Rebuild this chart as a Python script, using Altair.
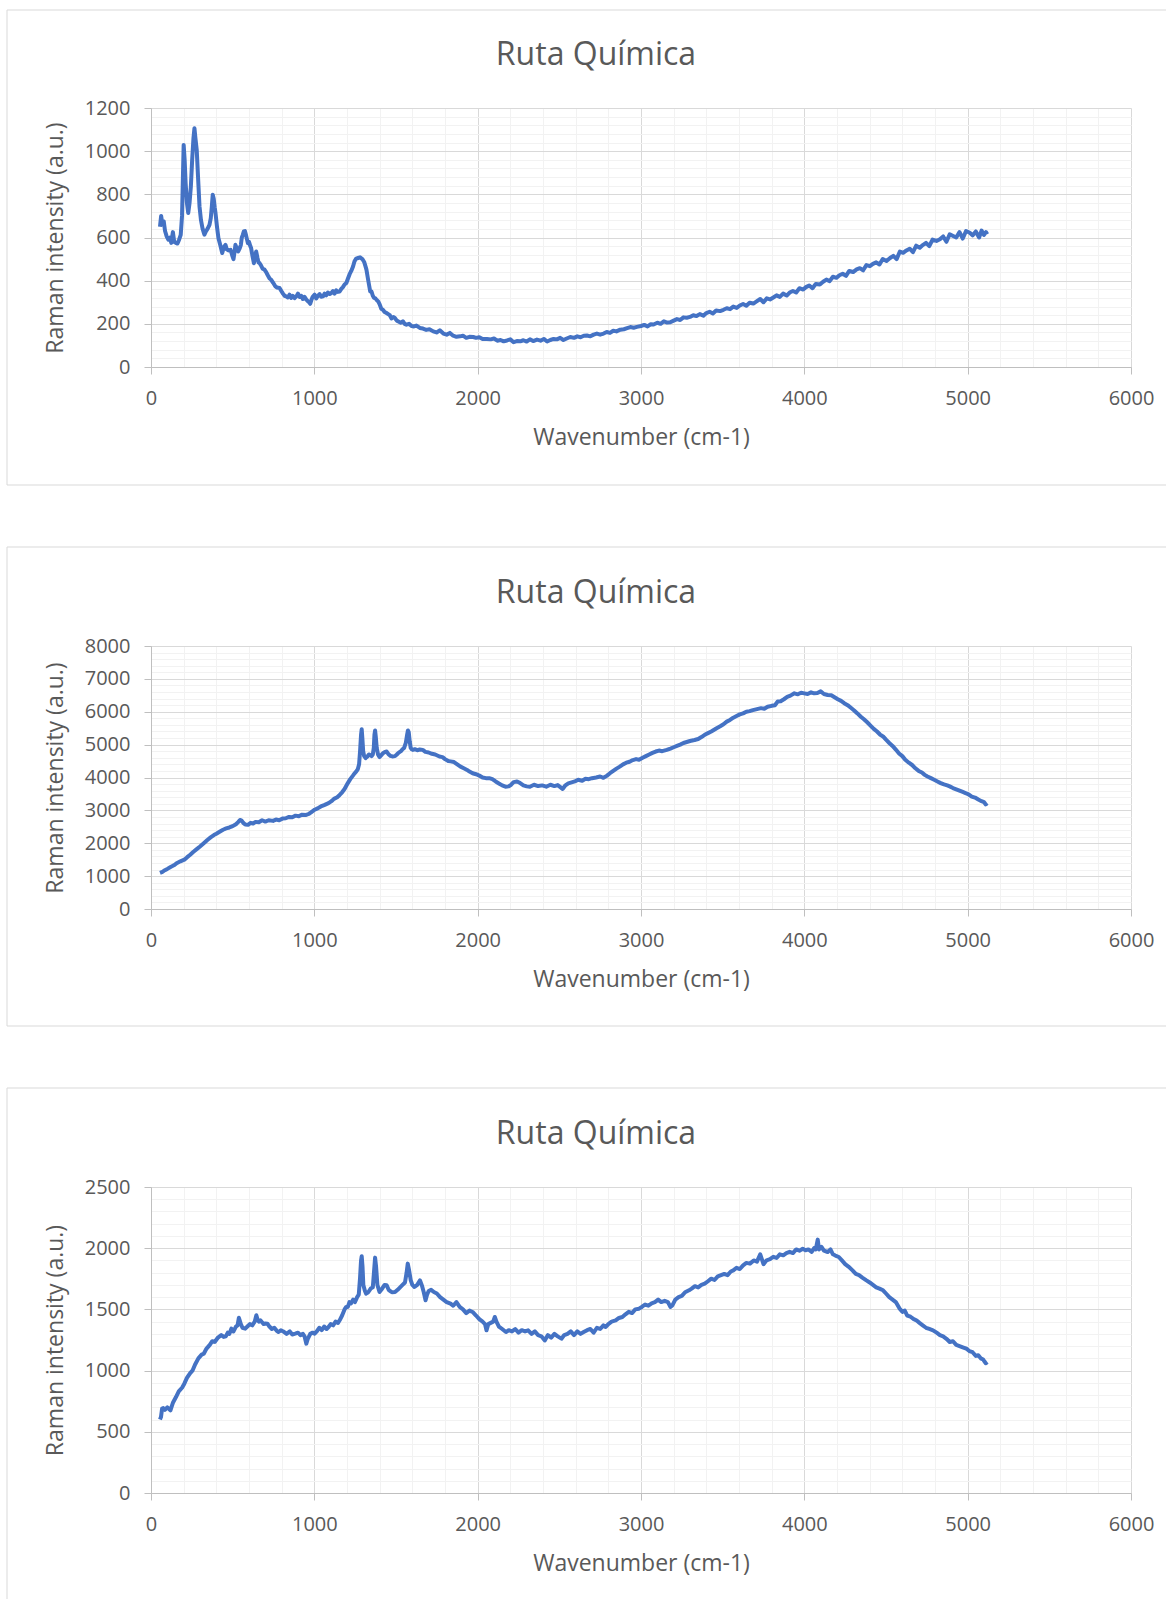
import altair as alt
import pandas as pd

FONT = "Open Sans"
LINE_COLOR = "#4472C4"
TEXT_COLOR = "#595959"
MAJOR_GRID = "#d9d9d9"
MINOR_GRID = "#f2f2f2"
FRAME_COLOR = "#d9d9d9"

TITLE = "Ruta Química"
X_TITLE = "Wavenumber (cm-1)"
Y_TITLE = "Raman intensity (a.u.)"

X_MAJOR = [0, 1000, 2000, 3000, 4000, 5000, 6000]
X_MINOR = [v for v in range(200, 6000, 200) if v % 1000]

# (wavenumber, intensity) pairs for each spectrum
SPECTRUM_1 = [
    (55, 650), (62, 700), (70, 660), (78, 675), (86, 630), (96, 605), (106, 590),
    (116, 600), (124, 575), (134, 625), (142, 580), (152, 575), (162, 572),
    (172, 590), (182, 612), (190, 700), (196, 900), (200, 1029), (206, 960),
    (212, 852), (220, 760), (228, 713), (236, 760), (244, 836), (252, 960),
    (260, 1060), (266, 1106), (272, 1060), (280, 1006), (288, 880), (297, 744),
    (306, 680), (316, 640), (327, 613), (336, 628), (346, 640), (358, 659),
    (366, 690), (372, 740), (378, 798), (384, 780), (390, 740), (395, 713),
    (404, 650), (413, 597), (424, 565), (436, 528), (446, 555), (456, 566),
    (464, 545), (474, 540), (487, 543), (496, 520), (505, 500), (512, 535),
    (517, 566), (526, 548), (534, 535), (542, 548), (550, 565), (556, 600),
    (562, 612), (568, 628), (575, 630), (582, 610), (593, 574), (600, 580),
    (608, 560), (613, 551), (620, 520), (630, 481), (636, 510), (644, 535),
    (652, 505), (658, 485), (665, 481), (674, 470), (684, 455), (695, 451),
    (705, 440), (715, 425), (726, 410), (736, 404), (748, 390), (760, 375),
    (772, 368), (787, 366), (798, 352), (808, 340), (818, 330), (828, 327),
    (838, 322), (848, 335), (858, 320), (868, 330), (879, 319), (890, 327),
    (900, 340), (910, 325), (920, 330), (930, 315), (940, 325), (951, 312),
    (960, 305), (968, 300), (975, 293), (982, 310), (990, 325), (1002, 335),
    (1012, 318), (1022, 330), (1032, 338), (1042, 325), (1053, 327), (1063, 340),
    (1073, 332), (1083, 345), (1094, 338), (1104, 343), (1114, 352), (1124, 340),
    (1134, 355), (1144, 348), (1155, 350), (1165, 362), (1175, 370), (1185, 382),
    (1196, 389), (1206, 410), (1216, 430), (1226, 445), (1237, 466), (1246, 490),
    (1256, 502), (1268, 505), (1280, 508), (1294, 500), (1306, 485), (1312, 470),
    (1319, 451), (1328, 410), (1335, 380), (1342, 350), (1350, 350), (1358, 330),
    (1366, 320), (1374, 318), (1382, 310), (1391, 304), (1400, 290), (1410, 270),
    (1420, 265), (1430, 255), (1442, 250), (1452, 245), (1462, 240), (1472, 225),
    (1483, 232), (1493, 227), (1505, 215), (1518, 210), (1530, 205), (1542, 212),
    (1553, 200), (1564, 196), (1580, 200), (1595, 190), (1610, 188), (1625, 192),
    (1646, 181), (1665, 178), (1685, 172), (1705, 175), (1728, 165), (1748, 160),
    (1768, 170), (1790, 155), (1810, 150), (1830, 158), (1850, 145), (1870, 140),
    (1892, 142), (1910, 145), (1930, 135), (1950, 140), (1973, 139), (1990, 135),
    (2010, 138), (2030, 130), (2057, 130), (2080, 128), (2100, 132), (2120, 122),
    (2140, 125), (2159, 119), (2180, 123), (2200, 128), (2220, 115), (2240, 120),
    (2261, 119), (2280, 124), (2300, 118), (2320, 128), (2340, 120), (2363, 127),
    (2385, 122), (2405, 130), (2425, 118), (2445, 125), (2465, 130), (2485, 128),
    (2505, 135), (2525, 125), (2545, 132), (2567, 139), (2590, 135), (2610, 142),
    (2630, 138), (2650, 145), (2669, 146), (2690, 142), (2710, 150), (2730, 155),
    (2750, 150), (2771, 155), (2790, 162), (2810, 158), (2830, 168), (2850, 165),
    (2873, 173), (2895, 175), (2915, 180), (2935, 185), (2955, 182), (2975, 186),
    (3000, 190), (3020, 195), (3040, 188), (3060, 198), (3077, 197), (3100, 205),
    (3120, 200), (3140, 212), (3160, 206), (3179, 207), (3200, 215), (3220, 222),
    (3240, 218), (3260, 230), (3280, 228), (3300, 232), (3320, 240), (3340, 236),
    (3360, 245), (3382, 238), (3400, 250), (3420, 256), (3440, 248), (3460, 262),
    (3484, 259), (3505, 265), (3525, 272), (3545, 268), (3565, 280), (3586, 274),
    (3605, 285), (3625, 292), (3645, 284), (3665, 298), (3688, 294), (3710, 305),
    (3730, 315), (3750, 300), (3770, 318), (3790, 313), (3810, 322), (3830, 332),
    (3850, 325), (3870, 340), (3892, 331), (3910, 345), (3930, 352), (3950, 345),
    (3970, 365), (3993, 359), (4010, 370), (4030, 378), (4050, 365), (4070, 385),
    (4095, 382), (4115, 395), (4135, 405), (4155, 398), (4175, 418), (4197, 413),
    (4215, 425), (4235, 432), (4255, 422), (4275, 445), (4299, 440), (4320, 452),
    (4340, 458), (4360, 448), (4380, 472), (4401, 467), (4420, 478), (4440, 485),
    (4460, 475), (4480, 500), (4503, 491), (4525, 505), (4545, 515), (4565, 500),
    (4585, 535), (4605, 529), (4625, 540), (4645, 548), (4665, 532), (4685, 562),
    (4707, 553), (4725, 565), (4745, 575), (4765, 560), (4785, 590), (4809, 584),
    (4830, 592), (4850, 605), (4870, 580), (4890, 615), (4911, 607), (4930, 600),
    (4950, 625), (4970, 595), (4990, 630), (5013, 622), (5030, 610), (5050, 628),
    (5070, 600), (5085, 632), (5100, 612), (5112, 625), (5120, 615),
]

SPECTRUM_2 = [
    (55, 1100), (70, 1130), (85, 1180), (100, 1220), (120, 1280), (140, 1330),
    (160, 1400), (180, 1450), (204, 1500), (220, 1570), (240, 1650), (260, 1740),
    (280, 1820), (300, 1900), (323, 2000), (345, 2100), (365, 2180), (385, 2250),
    (400, 2290), (420, 2350), (441, 2410), (460, 2450), (480, 2480), (500, 2520),
    (520, 2580), (535, 2650), (545, 2710), (555, 2690), (565, 2620), (577, 2570),
    (594, 2560), (610, 2620), (625, 2600), (640, 2650), (660, 2640), (680, 2700),
    (700, 2660), (720, 2700), (747, 2680), (765, 2720), (785, 2700), (805, 2750),
    (825, 2760), (845, 2800), (865, 2790), (885, 2840), (905, 2820), (925, 2870),
    (950, 2860), (965, 2890), (980, 2940), (1002, 3020), (1020, 3060), (1040, 3120),
    (1060, 3160), (1087, 3220), (1105, 3280), (1120, 3350), (1140, 3400),
    (1155, 3470), (1170, 3550), (1185, 3650), (1205, 3830), (1220, 3950),
    (1235, 4050), (1245, 4120), (1256, 4180), (1266, 4250), (1274, 4400),
    (1280, 4800), (1286, 5300), (1290, 5470), (1294, 5200), (1299, 4800),
    (1305, 4650), (1314, 4590), (1325, 4640), (1334, 4700), (1341, 4690),
    (1350, 4650), (1358, 4700), (1364, 4900), (1368, 5300), (1372, 5430),
    (1376, 5250), (1382, 4900), (1390, 4700), (1399, 4620), (1410, 4680),
    (1420, 4740), (1430, 4770), (1443, 4790), (1455, 4700), (1466, 4660),
    (1478, 4640), (1494, 4650), (1505, 4700), (1515, 4750), (1530, 4800),
    (1540, 4860), (1550, 4900), (1560, 5050), (1568, 5300), (1573, 5430),
    (1578, 5380), (1584, 5100), (1590, 4900), (1596, 4860), (1603, 4840),
    (1615, 4860), (1630, 4830), (1645, 4850), (1664, 4840), (1680, 4780),
    (1700, 4760), (1720, 4720), (1740, 4700), (1766, 4640), (1785, 4620),
    (1800, 4560), (1820, 4500), (1834, 4490), (1855, 4470), (1875, 4400),
    (1895, 4330), (1915, 4280), (1935, 4230), (1950, 4180), (1969, 4130),
    (1990, 4100), (2010, 4060), (2030, 4000), (2050, 3980), (2071, 3980),
    (2090, 3950), (2110, 3880), (2130, 3820), (2150, 3760), (2170, 3720),
    (2190, 3730), (2205, 3780), (2220, 3860), (2241, 3880), (2260, 3830),
    (2280, 3760), (2300, 3730), (2320, 3720), (2345, 3780), (2370, 3740),
    (2395, 3760), (2420, 3720), (2445, 3780), (2470, 3740), (2490, 3770),
    (2508, 3700), (2520, 3650), (2535, 3750), (2555, 3820), (2575, 3850),
    (2595, 3880), (2615, 3930), (2640, 3900), (2660, 3960), (2680, 3950),
    (2700, 3980), (2725, 4000), (2750, 4030), (2770, 3990), (2790, 4050),
    (2810, 4130), (2830, 4200), (2850, 4270), (2870, 4330), (2890, 4400),
    (2910, 4450), (2930, 4480), (2950, 4530), (2970, 4560), (2988, 4540),
    (3010, 4600), (3030, 4650), (3050, 4700), (3070, 4750), (3090, 4790),
    (3110, 4820), (3130, 4800), (3158, 4840), (3180, 4880), (3200, 4920),
    (3220, 4960), (3240, 5000), (3260, 5050), (3280, 5080), (3300, 5110),
    (3328, 5140), (3350, 5170), (3370, 5230), (3390, 5300), (3410, 5350),
    (3430, 5400), (3463, 5500), (3485, 5560), (3505, 5620), (3525, 5700),
    (3545, 5750), (3565, 5820), (3585, 5870), (3605, 5920), (3625, 5950),
    (3645, 6000), (3665, 6020), (3685, 6050), (3710, 6080), (3735, 6110),
    (3755, 6090), (3775, 6150), (3800, 6180), (3820, 6200), (3837, 6310),
    (3855, 6320), (3875, 6380), (3895, 6450), (3915, 6490), (3939, 6560),
    (3960, 6530), (3980, 6580), (4000, 6560), (4020, 6540), (4041, 6590),
    (4060, 6560), (4080, 6570), (4100, 6620), (4120, 6540), (4143, 6510),
    (4165, 6500), (4185, 6440), (4205, 6380), (4225, 6330), (4244, 6260),
    (4265, 6200), (4285, 6120), (4305, 6040), (4325, 5950), (4346, 5850),
    (4365, 5770), (4385, 5680), (4405, 5580), (4425, 5480), (4445, 5400),
    (4465, 5300), (4482, 5250), (4500, 5150), (4520, 5050), (4540, 4960),
    (4560, 4850), (4580, 4730), (4600, 4650), (4618, 4540), (4640, 4450),
    (4660, 4380), (4680, 4280), (4700, 4200), (4720, 4150), (4737, 4080),
    (4754, 4030), (4775, 3980), (4795, 3930), (4815, 3880), (4835, 3830),
    (4855, 3790), (4875, 3760), (4890, 3730), (4910, 3680), (4930, 3640),
    (4950, 3600), (4970, 3560), (4990, 3520), (5008, 3480), (5025, 3420),
    (5045, 3390), (5065, 3330), (5085, 3280), (5100, 3250), (5110, 3180),
    (5120, 3220),
]

SPECTRUM_3 = [
    (55, 600), (61, 620), (68, 690), (75, 694), (85, 680), (100, 700), (119, 675),
    (135, 740), (153, 784), (170, 830), (190, 860), (204, 893), (220, 940),
    (240, 980), (255, 1002), (270, 1050), (290, 1100), (310, 1130), (323, 1138),
    (340, 1180), (360, 1210), (375, 1240), (390, 1234), (410, 1270), (430, 1290),
    (445, 1275), (458, 1280), (470, 1310), (480, 1300), (492, 1343), (505, 1320),
    (520, 1360), (530, 1370), (538, 1432), (543, 1410), (550, 1380), (560, 1350),
    (577, 1343), (590, 1360), (605, 1380), (620, 1370), (635, 1400), (645, 1452),
    (652, 1420), (660, 1400), (670, 1410), (680, 1395), (690, 1380), (700, 1385),
    (713, 1383), (725, 1360), (740, 1340), (755, 1350), (770, 1325), (781, 1315),
    (795, 1330), (810, 1320), (830, 1300), (850, 1320), (865, 1295), (883, 1302),
    (900, 1310), (915, 1290), (930, 1300), (940, 1280), (951, 1220), (960, 1260),
    (975, 1300), (990, 1310), (1002, 1302), (1015, 1320), (1030, 1350),
    (1045, 1330), (1060, 1360), (1075, 1340), (1087, 1356), (1100, 1380),
    (1115, 1370), (1130, 1400), (1145, 1390), (1155, 1411), (1170, 1450),
    (1185, 1500), (1195, 1520), (1205, 1520), (1215, 1560), (1225, 1550),
    (1238, 1580), (1249, 1560), (1262, 1600), (1272, 1620), (1280, 1760),
    (1286, 1900), (1290, 1934), (1295, 1850), (1300, 1700), (1310, 1650),
    (1317, 1629), (1330, 1640), (1345, 1670), (1358, 1680), (1365, 1800),
    (1372, 1923), (1378, 1850), (1386, 1700), (1399, 1642), (1410, 1660),
    (1420, 1680), (1430, 1700), (1443, 1697), (1455, 1660), (1465, 1650),
    (1475, 1640), (1494, 1642), (1510, 1660), (1525, 1680), (1540, 1700),
    (1555, 1720), (1565, 1800), (1572, 1874), (1580, 1820), (1590, 1740),
    (1600, 1700), (1613, 1683), (1630, 1700), (1647, 1737), (1660, 1690),
    (1670, 1640), (1681, 1574), (1690, 1620), (1700, 1650), (1715, 1660),
    (1732, 1642), (1750, 1630), (1770, 1600), (1790, 1580), (1810, 1560),
    (1834, 1547), (1850, 1530), (1870, 1560), (1890, 1520), (1910, 1500),
    (1930, 1470), (1950, 1490), (1969, 1479), (1990, 1450), (2010, 1420),
    (2030, 1400), (2045, 1380), (2054, 1329), (2065, 1380), (2080, 1390),
    (2095, 1400), (2105, 1438), (2115, 1400), (2130, 1360), (2150, 1340),
    (2173, 1315), (2190, 1330), (2210, 1320), (2230, 1340), (2250, 1310),
    (2270, 1330), (2290, 1320), (2309, 1329), (2330, 1300), (2350, 1320),
    (2370, 1290), (2390, 1280), (2411, 1247), (2430, 1290), (2450, 1270),
    (2470, 1300), (2490, 1280), (2513, 1261), (2530, 1290), (2550, 1300),
    (2570, 1320), (2590, 1290), (2610, 1320), (2630, 1300), (2649, 1315),
    (2670, 1330), (2690, 1340), (2710, 1310), (2730, 1350), (2750, 1340),
    (2770, 1370), (2784, 1356), (2800, 1380), (2820, 1400), (2845, 1410),
    (2865, 1430), (2886, 1438), (2905, 1460), (2925, 1480), (2945, 1470),
    (2965, 1500), (2988, 1506), (3005, 1520), (3025, 1540), (3045, 1530),
    (3065, 1550), (3085, 1560), (3105, 1580), (3124, 1560), (3145, 1570),
    (3165, 1560), (3180, 1520), (3192, 1533), (3210, 1580), (3230, 1600),
    (3250, 1610), (3270, 1640), (3294, 1656), (3310, 1670), (3330, 1690),
    (3350, 1680), (3370, 1700), (3390, 1710), (3410, 1730), (3430, 1751),
    (3450, 1740), (3470, 1770), (3490, 1780), (3510, 1790), (3530, 1780),
    (3550, 1810), (3565, 1819), (3585, 1840), (3605, 1830), (3625, 1860),
    (3645, 1880), (3667, 1874), (3690, 1900), (3710, 1890), (3730, 1950),
    (3750, 1870), (3769, 1901), (3790, 1910), (3810, 1930), (3830, 1920),
    (3850, 1950), (3871, 1942), (3890, 1960), (3910, 1970), (3930, 1960),
    (3950, 1990), (3970, 1980), (3990, 1995), (4007, 1983), (4025, 1990),
    (4045, 1970), (4060, 2000), (4070, 1990), (4082, 2070), (4090, 1990),
    (4105, 2010), (4120, 1980), (4143, 1969), (4160, 1990), (4175, 1950),
    (4190, 1940), (4211, 1928), (4230, 1900), (4250, 1870), (4270, 1850),
    (4295, 1819), (4315, 1790), (4335, 1780), (4355, 1760), (4380, 1737),
    (4400, 1720), (4420, 1700), (4440, 1680), (4460, 1670), (4482, 1656),
    (4500, 1630), (4520, 1600), (4540, 1580), (4560, 1560), (4584, 1506),
    (4600, 1480), (4615, 1490), (4630, 1450), (4650, 1440), (4670, 1420),
    (4686, 1411), (4705, 1390), (4725, 1370), (4745, 1350), (4765, 1340),
    (4788, 1329), (4810, 1310), (4830, 1290), (4850, 1280), (4870, 1260),
    (4890, 1234), (4910, 1240), (4930, 1210), (4950, 1200), (4970, 1190),
    (4992, 1179), (5010, 1160), (5030, 1150), (5050, 1120), (5065, 1125),
    (5080, 1100), (5095, 1090), (5110, 1060), (5121, 1070),
]

PLOT_WIDTH = 980
FRAME_LEFT = -144
FRAME_RIGHT = 1015


def spectrum_panel(points, y_max, y_step, y_minor_step, height,
                   frame_top, frame_bottom, close_bottom=True):
    df = pd.DataFrame(points, columns=["wavenumber", "intensity"])
    x_scale = alt.Scale(domain=[0, 6000], nice=False, zero=False)
    y_scale = alt.Scale(domain=[0, y_max], nice=False)
    y_major = list(range(0, y_max + 1, y_step))
    y_minor = [v for v in range(y_minor_step, y_max, y_minor_step) if v % y_step]

    base = alt.Chart(df)

    # light minor gridlines, drawn through a transparent copy of the line
    minor = base.mark_line(opacity=0).encode(
        x=alt.X("wavenumber:Q", scale=x_scale,
                axis=alt.Axis(orient="top", values=X_MINOR, grid=True,
                              gridColor=MINOR_GRID, domain=False, ticks=False,
                              labels=False, title=None)),
        y=alt.Y("intensity:Q", scale=y_scale,
                axis=alt.Axis(orient="right", values=y_minor, grid=True,
                              gridColor=MINOR_GRID, domain=False, ticks=False,
                              labels=False, title=None)),
    )

    line = base.mark_line(color=LINE_COLOR, strokeWidth=4, strokeJoin="round").encode(
        x=alt.X("wavenumber:Q", scale=x_scale,
                axis=alt.Axis(orient="bottom", values=X_MAJOR, grid=True,
                              gridColor=MAJOR_GRID, title=X_TITLE, format="d")),
        y=alt.Y("intensity:Q", scale=y_scale,
                axis=alt.Axis(orient="left", values=y_major, grid=True,
                              gridColor=MAJOR_GRID, title=Y_TITLE, format="d")),
    )

    one = pd.DataFrame({"k": [0]})
    frame = [
        alt.Chart(one).mark_rule(color=FRAME_COLOR, strokeWidth=1).encode(
            x=alt.value(FRAME_LEFT), y=alt.value(frame_top),
            y2=alt.value(height + frame_bottom)),
        alt.Chart(one).mark_rule(color=FRAME_COLOR, strokeWidth=1).encode(
            x=alt.value(FRAME_LEFT), x2=alt.value(FRAME_RIGHT),
            y=alt.value(frame_top)),
    ]
    if close_bottom:
        frame.append(
            alt.Chart(one).mark_rule(color=FRAME_COLOR, strokeWidth=1).encode(
                x=alt.value(FRAME_LEFT), x2=alt.value(FRAME_RIGHT),
                y=alt.value(height + frame_bottom)))

    title = alt.Chart(one).mark_text(
        text=TITLE, font=FONT, fontSize=32, color=TEXT_COLOR,
        align="center", baseline="middle",
    ).encode(x=alt.value(445), y=alt.value(-53))

    return alt.layer(*frame, title, minor, line).resolve_axis(
        x="independent", y="independent"
    ).properties(width=PLOT_WIDTH, height=height)


panel_1 = spectrum_panel(SPECTRUM_1, 1200, 200, 40, 259, -98, 118)
panel_2 = spectrum_panel(SPECTRUM_2, 8000, 1000, 200, 263, -99, 117)
panel_3 = spectrum_panel(SPECTRUM_3, 2500, 500, 100, 306, -99, 106, close_bottom=False)

chart = alt.vconcat(panel_1, panel_2, panel_3, spacing=60).properties(
    padding={"left": 6, "top": 9, "right": 0, "bottom": 0},
    background="white",
).configure_view(
    strokeWidth=0
).configure_axis(
    labelFont=FONT, labelFontSize=20, labelColor=TEXT_COLOR,
    titleFont=FONT, titleFontSize=23, titleFontWeight="normal", titleColor=TEXT_COLOR,
    domainColor="#bfbfbf", domainWidth=1, tickColor="#bfbfbf", tickSize=7,
    gridWidth=1, labelFlush=False, labelOverlap=False,
).configure_axisX(
    labelPadding=14, titlePadding=18,
).configure_axisY(
    labelPadding=14, titlePadding=17,
)

chart.save("out.html", embed_options={"renderer": "svg", "actions": False})
